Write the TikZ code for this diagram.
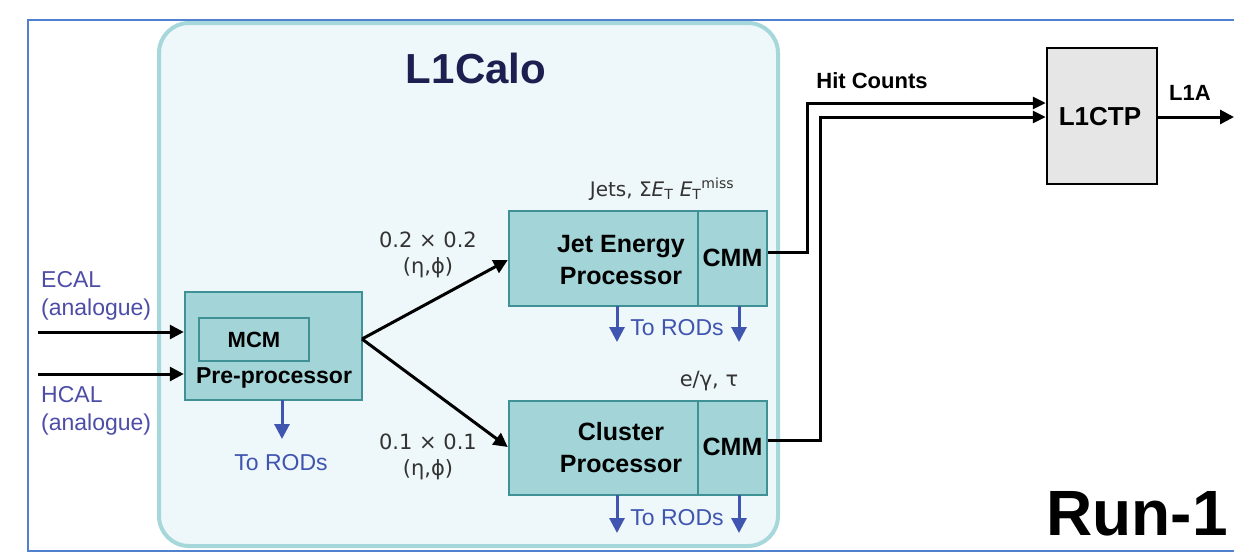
\documentclass[tikz,border=0pt]{standalone}
\usepackage{fontspec}
\setmainfont{Liberation Sans}
\newfontfamily\symfont{DejaVu Sans}
\usetikzlibrary{arrows.meta,calc}

\definecolor{framecol}{HTML}{4F81CF}
\definecolor{calofill}{HTML}{EEF7F9}
\definecolor{caloline}{HTML}{A6D7DB}
\definecolor{boxfill}{HTML}{A2D4D8}
\definecolor{boxline}{HTML}{3F9196}
\definecolor{navy}{HTML}{1C1F4F}
\definecolor{rodblue}{HTML}{3F55B0}
\definecolor{inblue}{HTML}{4D4DA8}
\definecolor{ctpfill}{HTML}{E6E6E6}
\definecolor{labgray}{HTML}{333333}

\newcommand{\fs}[1]{\fontsize{#1}{#1}\selectfont}

\tikzset{
  procbox/.style={draw=boxline, fill=boxfill, line width=2.5pt, inner sep=0pt},
  ctpbox/.style={draw=black, fill=ctpfill, line width=2.5pt, inner sep=0pt},
  bold/.style={font=\fs{25}\bfseries, text=black, align=center, inner sep=0pt},
  blk/.style={draw=black, line width=3pt, -{Triangle[length=14pt,width=14pt]}},
  wire/.style={draw=black, line width=3pt},
  rod/.style={draw=rodblue, line width=3pt, -{Triangle[length=15pt,width=15pt]}},
  bluetxt/.style={font=\fs{23}, text=inblue, align=left, inner sep=0pt},
  rodtxt/.style={font=\fs{23}, text=rodblue, inner sep=0pt},
  symtxt/.style={font=\symfont\fs{21}, text=labgray, align=center, inner sep=0pt},
}

\begin{document}
\begin{tikzpicture}[x=1pt, y=-1pt]
\useasboundingbox (0,0) rectangle (1234,558);

% outer frame (open on the right)
\draw[framecol, line width=2pt] (1234,20) -- (28,20) -- (28,551) -- (1234,551);

% L1Calo enclosure
\node[draw=caloline, fill=calofill, line width=4pt, rounded corners=30pt,
      minimum width=619pt, minimum height=523pt, inner sep=0pt] (calo) at (468.5,284.5) {};
\node[font=\fs{42}\bfseries, text=navy, inner sep=0pt] (calotitle) at (476,68) {L1Calo};

% Pre-processor with MCM
\node[procbox, minimum width=177pt, minimum height=108pt] (pre) at (273.5,346) {};
\node[procbox, minimum width=110pt, minimum height=43pt] (mcm) at (254,339.5) {};
\node[bold, font=\fs{22}\bfseries] (mcmtxt) at (254,340) {MCM};
\node[bold, font=\fs{23}\bfseries] (pretxt) at (274,378) {Pre-processor};

% Jet Energy Processor + CMM
\node[procbox, minimum width=189pt, minimum height=95pt] (jep) at (603.5,258.5) {};
\node[procbox, minimum width=69pt, minimum height=95pt] (cmmj) at (732.5,258.5) {};
\node[bold] (jeptxt) at (621,260) {Jet Energy\\[7pt]Processor};
\node[bold] (cmmjtxt) at (732.5,258) {CMM};

% Cluster Processor + CMM
\node[procbox, minimum width=189pt, minimum height=94pt] (cp) at (603.5,448) {};
\node[procbox, minimum width=69pt, minimum height=94pt] (cmmc) at (732.5,448) {};
\node[bold] (cptxt) at (621,448) {Cluster\\[7pt]Processor};
\node[bold] (cmmctxt) at (732.5,447) {CMM};

% Central Trigger Processor
\node[ctpbox, minimum width=110pt, minimum height=136pt] (ctp) at (1102,116) {};
\node[bold, font=\fs{26}\bfseries] (ctptxt) at (1100,117) {L1CTP};

% calorimeter inputs
\node[bluetxt, anchor=west] (ecal) at (41,296) {ECAL\\[5pt](analogue)};
\node[bluetxt, anchor=west] (hcal) at (41,411) {HCAL\\[5pt](analogue)};
\coordinate (ecalin) at (38,332);
\coordinate (hcalin) at (38,374);
\draw[blk] (ecalin) -- (ecalin -| pre.west);
\draw[blk] (hcalin) -- (hcalin -| pre.west);

% pre-processor fan-out
\coordinate (fork) at (362,339);
\draw[blk] (fork) -- ($(jep.west)+(0,1.5)$);
\draw[blk] (fork) -- ($(cp.west)+(0,-1)$);
\node[symtxt] (gridj) at (428,255) {0.2 × 0.2\\[5pt](η,ϕ)};
\node[symtxt] (gridc) at (428,457) {0.1 × 0.1\\[5pt](η,ϕ)};

% outputs above the processors
\node[font=\symfont\fs{20}, text=labgray, inner sep=0pt] (jetslab) at (662,189)
  {Jets, Σ\textit{E}\textsubscript{T} \textit{E}\textsubscript{T}\textsuperscript{miss}};
\node[font=\symfont\fs{21}, text=labgray, inner sep=0pt] (eglab) at (709,381) {e/γ, τ};

% readout paths
\coordinate (rp) at (282,400);
\draw[rod] (rp) -- (282,439);
\node[rodtxt] (rodp) at (281,463) {To RODs};

\draw[rod] (617,306) -- (617,342);
\draw[rod] (739,306) -- (739,342);
\node[rodtxt] (rodj) at (677,328) {To RODs};

\draw[rod] (617,495) -- (617,533);
\draw[rod] (739,495) -- (739,533);
\node[rodtxt] (rodc) at (677,518) {To RODs};

% hit counts to L1CTP
\coordinate (hj) at (807,252);
\coordinate (hc) at (820,440);
\draw[wire, -{Triangle[length=13pt,width=12pt]}] (cmmj.east |- hj) -- (hj) -- (807,103) -- (ctp.west |- 0,103);
\draw[wire, -{Triangle[length=13pt,width=12pt]}] (cmmc.east |- hc) -- (hc) -- (820,117) -- (ctp.west |- 0,117);
\node[font=\fs{22}\bfseries, inner sep=0pt] (hitlab) at (872,81) {Hit Counts};

% level-1 accept
\coordinate (l1aout) at (1234,117);
\draw[blk] (ctp.east |- l1aout) -- (l1aout);
\node[font=\fs{22}\bfseries, inner sep=0pt] (l1alab) at (1190,93) {L1A};

% run tag
\node[font=\fs{64}\bfseries, inner sep=0pt] (runtag) at (1137,514) {Run-1};
\end{tikzpicture}
\end{document}
